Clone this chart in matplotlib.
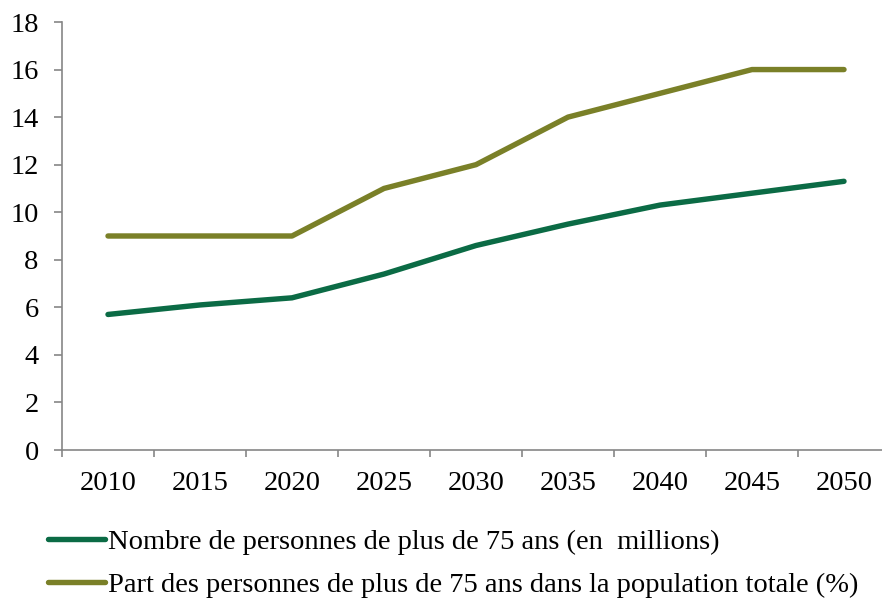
import numpy as np
import matplotlib.pyplot as plt
from matplotlib.ticker import FixedLocator, NullFormatter

years = ['2010', '2015', '2020', '2025', '2030', '2035', '2040', '2045', '2050']
nombre = [5.7, 6.1, 6.4, 7.4, 8.6, 9.5, 10.3, 10.8, 11.3]
part = [9, 9, 9, 11, 12, 14, 15, 16, 16]
labels = ['Nombre de personnes de plus de 75 ans (en  millions)',
          'Part des personnes de plus de 75 ans dans la population totale (%)']
colors = ['#0b6b45', '#7a8028']

plt.rcParams['font.family'] = ['Liberation Serif', 'DejaVu Serif']

fig = plt.figure(figsize=(8.82, 5.98), dpi=100)
ax = fig.add_axes([62/882, 1-450/598, (890-62)/882, (450-22)/598])

x = np.arange(len(years))
for vals, lab, c in zip([nombre, part], labels, colors):
    ax.plot(x, vals, color=c, lw=3.9, solid_capstyle='round', solid_joinstyle='round', label=lab)

ax.set_xlim(-0.5, len(years) - 0.5)
ax.set_ylim(0, 18)
ax.set_yticks(range(0, 19, 2))
ax.xaxis.set_major_locator(FixedLocator(np.arange(-0.5, len(years), 1)))
ax.xaxis.set_major_formatter(NullFormatter())
ax.xaxis.set_minor_locator(FixedLocator(x))
ax.set_xticklabels(years, minor=True)
ax.tick_params(axis='x', which='major', direction='out', length=5, color='#868686', width=1.2)
ax.tick_params(axis='x', which='minor', length=0, pad=15, labelsize=20.5)
ax.tick_params(axis='y', direction='out', length=5.8, color='#868686', width=1.2, labelsize=20.5, pad=11)

for s in ['top', 'right']:
    ax.spines[s].set_visible(False)
for s in ['left', 'bottom']:
    ax.spines[s].set_color('#868686')
    ax.spines[s].set_linewidth(1.2)

fig.legend(loc='upper left', bbox_to_anchor=(48/882, 1-529/598), frameon=False,
           fontsize=20.5, handlelength=2.0, handletextpad=0.1, labelspacing=0.6,
           borderaxespad=0, borderpad=0)

fig.savefig('out.png', dpi=100)
